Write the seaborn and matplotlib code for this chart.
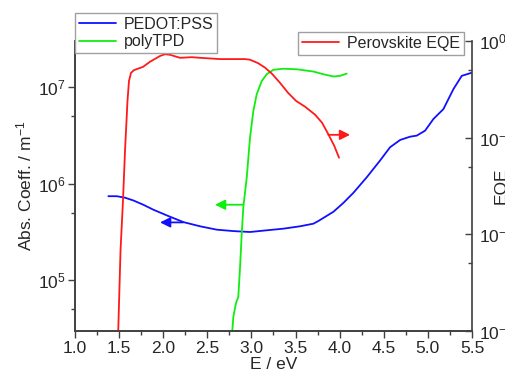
import matplotlib
matplotlib.use("Agg")
import matplotlib.pyplot as plt
import numpy as np
import pandas as pd
import seaborn as sns
from matplotlib.ticker import LogLocator, MultipleLocator, NullFormatter

# PEDOT:PSS absorption coefficient (m^-1), left axis
pedot_e = [1.378, 1.473, 1.567, 1.661, 1.774, 1.888, 2.040, 2.228, 2.417, 2.607,
           2.795, 2.984, 3.173, 3.362, 3.551, 3.702, 3.758, 3.929, 4.042, 4.155,
           4.307, 4.458, 4.571, 4.685, 4.798, 4.874, 4.968, 5.062, 5.176, 5.289,
           5.384, 5.498]
pedot_k = [7.39e5, 7.39e5, 7.13e5, 6.68e5, 6.03e5, 5.36e5, 4.68e5, 3.99e5, 3.61e5, 3.33e5,
           3.22e5, 3.15e5, 3.28e5, 3.41e5, 3.61e5, 3.84e5, 4.09e5, 5.1e5, 6.3e5, 8.0e5,
           1.16e6, 1.73e6, 2.37e6, 2.82e6, 3.05e6, 3.13e6, 3.52e6, 4.64e6, 5.89e6, 9.46e6,
           1.30e7, 1.40e7]

# polyTPD absorption coefficient (m^-1), left axis
tpd_e = [2.783, 2.795, 2.825, 2.851, 2.871, 2.890, 2.908, 2.947, 2.984, 3.022,
         3.060, 3.117, 3.173, 3.248, 3.362, 3.513, 3.702, 3.815, 3.929, 4.005, 4.08]
tpd_k = [3.0e4, 4.19e4, 5.8e4, 6.73e4, 1.37e5, 3.05e5, 5.7e5, 1.16e6, 3.0e6, 5.66e6,
         8.4e6, 1.15e7, 1.35e7, 1.50e7, 1.54e7, 1.52e7, 1.44e7, 1.35e7, 1.28e7, 1.30e7, 1.37e7]

# Perovskite EQE, right axis
eqe_e = [1.49, 1.516, 1.544, 1.567, 1.595, 1.612, 1.635, 1.669, 1.771, 1.850,
         1.964, 2.020, 2.077, 2.19, 2.327, 2.417, 2.644, 2.927, 2.984, 3.075,
         3.154, 3.234, 3.324, 3.415, 3.506, 3.608, 3.721, 3.80, 3.868, 3.937, 3.993]
eqe_v = [1.0e-3, 6.8e-3, 0.0224, 0.0734, 0.24, 0.387, 0.468, 0.50, 0.54, 0.61,
         0.70, 0.73, 0.72, 0.67, 0.68, 0.67, 0.65, 0.65, 0.64, 0.59,
         0.53, 0.457, 0.369, 0.291, 0.24, 0.209, 0.173, 0.143, 0.110, 0.083, 0.062]

sns.set_theme(style="ticks")
plt.rcParams["font.family"] = ["Liberation Sans", "DejaVu Sans"]
plt.rcParams["mathtext.fontset"] = "custom"
plt.rcParams["mathtext.rm"] = "Liberation Sans"
plt.rcParams["mathtext.it"] = "Liberation Sans:italic"

SPINE = "#404040"

fig = plt.figure(figsize=(5.06, 3.78), dpi=100)
ax = fig.add_axes([75 / 506, 1 - 331 / 378, (472 - 75) / 506, (331 - 41) / 378])
ax2 = ax.twinx()

df_p = pd.DataFrame({"E": pedot_e, "k": pedot_k})
df_t = pd.DataFrame({"E": tpd_e, "k": tpd_k})
df_q = pd.DataFrame({"E": eqe_e, "v": eqe_v})

sns.lineplot(data=df_p, x="E", y="k", ax=ax, color="#1010ff", lw=1.3,
             label="PEDOT:PSS", sort=False)
sns.lineplot(data=df_t, x="E", y="k", ax=ax, color="#10ee10", lw=1.3,
             label="polyTPD", sort=False)
sns.lineplot(data=df_q, x="E", y="v", ax=ax2, color="#ff1a1a", lw=1.3,
             label="Perovskite EQE", sort=False)

ax.set_xlim(1.0, 5.5)
ax.set_yscale("log")
ax.set_ylim(2.98e4, 2.98e7)
ax2.set_yscale("log")
ax2.set_ylim(1e-3, 1)

ax.xaxis.set_major_locator(MultipleLocator(0.5))
ax.xaxis.set_minor_locator(MultipleLocator(0.25))
ax.xaxis.set_major_formatter(plt.FuncFormatter(lambda v, p: f"{v:.1f}"))
for a in (ax, ax2):
    a.yaxis.set_minor_locator(LogLocator(base=10, subs=[5.0]))
    a.yaxis.set_minor_formatter(NullFormatter())

ax.tick_params(axis="both", which="major", labelsize=12.5, length=5, width=1,
               color=SPINE, direction="out", pad=2)
ax.tick_params(axis="both", which="minor", length=3, width=1, color=SPINE, direction="out")
ax2.tick_params(axis="y", which="major", labelsize=12.5, length=5, width=1,
                color=SPINE, direction="in", pad=5)
ax2.tick_params(axis="y", which="minor", length=3, width=1, color=SPINE, direction="in")

for a in (ax, ax2):
    a.spines["top"].set_visible(False)
    for s in ("left", "right", "bottom"):
        a.spines[s].set_color(SPINE)
        a.spines[s].set_linewidth(1.2)
ax.spines["right"].set_visible(False)

ax.set_xlabel("E / eV", fontsize=12.5, labelpad=1)
ax.set_ylabel("Abs. Coeff. / m$^{-1}$", fontsize=12.5, labelpad=2)
ax2.set_ylabel("EQE", fontsize=12.5)
ax2.yaxis.set_label_coords((494 - 75) / 397, 0.5)

# direction arrows
arrow_kw = dict(arrowstyle="-|>", lw=1.3, mutation_scale=15, shrinkA=0, shrinkB=0)
ax.annotate("", xy=(1.964, 3.96e5), xytext=(2.224, 3.96e5),
            arrowprops=dict(color="#1010ff", **arrow_kw))
ax.annotate("", xy=(2.587, 6.03e5), xytext=(2.908, 6.03e5),
            arrowprops=dict(color="#10ee10", **arrow_kw))
ax2.annotate("", xy=(4.118, 0.107), xytext=(3.872, 0.107),
             arrowprops=dict(color="#ff1a1a", **arrow_kw))

leg_kw = dict(fontsize=11.5, frameon=True, fancybox=False, framealpha=1,
              edgecolor="#a0a0a0", borderaxespad=0, borderpad=0.25,
              labelspacing=0.15, handlelength=2.3, handletextpad=0.5)
ax2.get_legend().remove()
ax.get_legend().remove()
h1, l1 = ax.get_legend_handles_labels()
h2, l2 = ax2.get_legend_handles_labels()
leg1 = ax2.legend(h1, l1, loc="upper left", bbox_to_anchor=(75 / 506, 1 - 13 / 378),
                  bbox_transform=fig.transFigure, **leg_kw)
ax2.add_artist(leg1)
ax2.legend(h2, l2, loc="upper right", bbox_to_anchor=(464 / 506, 1 - 32 / 378),
           bbox_transform=fig.transFigure, **leg_kw)
for leg in ax2.findobj(matplotlib.legend.Legend):
    leg.get_frame().set_linewidth(1.0)

fig.savefig("out.png", dpi=100)
